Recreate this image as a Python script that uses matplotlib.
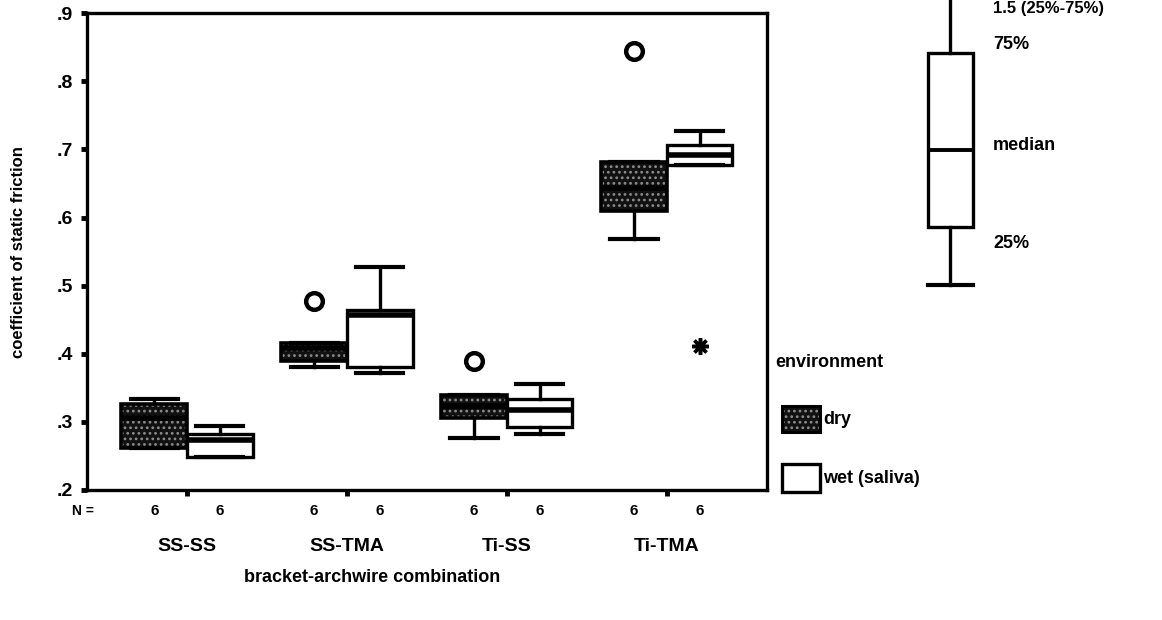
import matplotlib
matplotlib.use('Agg')
import matplotlib.pyplot as plt
from matplotlib.patches import PathPatch, Rectangle

plt.rcParams['font.family'] = ['Liberation Sans', 'DejaVu Sans']
plt.rcParams['font.weight'] = 'bold'
plt.rcParams['hatch.linewidth'] = 1.2

combos = ['SS-SS', 'SS-TMA', 'Ti-SS', 'Ti-TMA']
env_labels = ['dry', 'wet (saliva)']
n_obs = [6, 6, 6, 6, 6, 6, 6, 6]

# per box, order: SS-SS dry, SS-SS wet, SS-TMA dry, SS-TMA wet, ...
whislo = [0.261, 0.248, 0.380, 0.372, 0.276, 0.282, 0.569, 0.677]
q1 = [0.261, 0.248, 0.390, 0.381, 0.305, 0.292, 0.609, 0.677]
med = [0.305, 0.273, 0.408, 0.457, 0.323, 0.317, 0.643, 0.692]
q3 = [0.326, 0.282, 0.416, 0.464, 0.339, 0.334, 0.682, 0.706]
whishi = [0.334, 0.294, 0.416, 0.527, 0.339, 0.356, 0.682, 0.727]
outliers = [[], [], [0.477], [], [0.390], [], [0.845], []]
extremes = [[], [], [], [], [], [], [], [0.412]]

yticks = [0.2, 0.3, 0.4, 0.5, 0.6, 0.7, 0.8, 0.9]
ytick_labels = ['.2', '.3', '.4', '.5', '.6', '.7', '.8', '.9']

# key box (schematic)
key_labels = ['1.5 (25%-75%)', '75%', 'median', '25%']
key_stats = dict(whislo=0.0, q1=1.0, med=2.33, q3=4.0, whishi=6.0, fliers=[])

DRY_FACE = '#111111'
DRY_HATCH = '#8c8c8c'

fig = plt.figure(figsize=(11.62, 6.2), dpi=100)
ax = fig.add_axes([0.0749, 0.2097, 0.585, 0.769])

box_w = 0.41
positions = []
for i in range(len(combos)):
    positions += [i + 1 - box_w / 2, i + 1 + box_w / 2]

stats = []
for i in range(len(positions)):
    stats.append(dict(whislo=whislo[i], q1=q1[i], med=med[i], q3=q3[i],
                      whishi=whishi[i], fliers=[]))

res = ax.bxp(stats, positions=positions, widths=box_w, patch_artist=True,
             showfliers=False,
             boxprops=dict(linewidth=2.4, edgecolor='black'),
             whiskerprops=dict(linewidth=2.4, color='black'),
             capprops=dict(linewidth=3, color='black'),
             medianprops=dict(linewidth=4, color='black', solid_capstyle='butt'),
             capwidths=box_w * 0.72)

for i, box in enumerate(res['boxes']):
    if i % 2 == 0:
        box.set_facecolor(DRY_FACE)
        box.set_edgecolor(DRY_HATCH)
        box.set_hatch('...')
        box.set_linewidth(0)
        ax.add_patch(PathPatch(box.get_path(), fill=False, edgecolor='black',
                               linewidth=2.6, zorder=box.get_zorder() + 0.1))
    else:
        box.set_facecolor('white')

for i, pos in enumerate(positions):
    for v in outliers[i]:
        ax.plot(pos, v, 'o', ms=12, mfc='white', mec='black', mew=3.2)
    for v in extremes[i]:
        ax.plot(pos, v, marker=(8, 2, 0), ms=12, color='black', mew=2.5)

ax.set_xlim(0.375, 4.625)
ax.set_ylim(0.2, 0.9)
ax.set_yticks(yticks)
ax.set_yticklabels(ytick_labels, fontsize=14, fontweight='bold')
ax.set_xticks([i + 1 for i in range(len(combos))])
ax.set_xticklabels([])
ax.tick_params(axis='x', length=4, width=3.5, direction='out')
ax.tick_params(axis='y', length=4, width=3.5, direction='out', pad=6)
for s in ax.spines.values():
    s.set_linewidth(2.4)

# N row
ax.text(0.35, -0.03, 'N =', transform=ax.get_xaxis_transform(),
        ha='center', va='top', fontsize=10, fontweight='bold')
for i, pos in enumerate(positions):
    ax.text(pos, -0.03, str(n_obs[i]), transform=ax.get_xaxis_transform(),
            ha='center', va='top', fontsize=11, fontweight='bold')
for i, c in enumerate(combos):
    ax.text(i + 1, -0.1, c, transform=ax.get_xaxis_transform(),
            ha='center', va='top', fontsize=14, fontweight='bold')

ax.set_ylabel('coefficient of static friction', fontsize=12, fontweight='bold',
              labelpad=22)
fig.text(0.32, 0.068, 'bracket-archwire combination', ha='center', va='center',
         fontsize=13, fontweight='bold')

# legend, drawn in its own axes (pixel-like units, y grows downward)
lax = fig.add_axes([775 / 1162, 1 - 500 / 620, 225 / 1162, 160 / 620])
lax.set_xlim(775, 1000)
lax.set_ylim(500, 340)
lax.axis('off')
lax.text(775, 362, 'environment', ha='left', va='center', fontsize=13,
         fontweight='bold')
lax.add_patch(Rectangle((782, 406), 38, 26, facecolor=DRY_FACE,
                        edgecolor=DRY_HATCH, hatch='...', lw=0))
lax.add_patch(Rectangle((782, 406), 38, 26, fill=False, edgecolor='black',
                        lw=2.2))
lax.add_patch(Rectangle((782, 464), 38, 28, facecolor='white',
                        edgecolor='black', lw=2.4))
lax.text(823, 419, env_labels[0], ha='left', va='center', fontsize=13,
         fontweight='bold')
lax.text(823, 478, env_labels[1], ha='left', va='center', fontsize=13,
         fontweight='bold')

# key
kax = fig.add_axes([900 / 1162, 1 - 300 / 620, 100 / 1162, 300 / 620])
kax.bxp([key_stats], positions=[0], widths=0.45, patch_artist=True,
        showfliers=False,
        boxprops=dict(linewidth=2.4, edgecolor='black', facecolor='white'),
        whiskerprops=dict(linewidth=2.4, color='black'),
        capprops=dict(linewidth=3, color='black'),
        medianprops=dict(linewidth=2.8, color='black'),
        capwidths=0.45)
kax.set_xlim(-0.5, 0.5)
kax.set_ylim(-0.259, 4.914)
kax.axis('off')
kax.text(0.43, 4.76, key_labels[0], ha='left', va='center', fontsize=12,
         fontweight='bold', clip_on=False)
kax.text(0.43, 4.14, key_labels[1], ha='left', va='center', fontsize=13,
         fontweight='bold')
kax.text(0.43, 2.41, key_labels[2], ha='left', va='center', fontsize=13,
         fontweight='bold')
kax.text(0.43, 0.72, key_labels[3], ha='left', va='center', fontsize=13,
         fontweight='bold')

fig.savefig('out.png', dpi=100)
